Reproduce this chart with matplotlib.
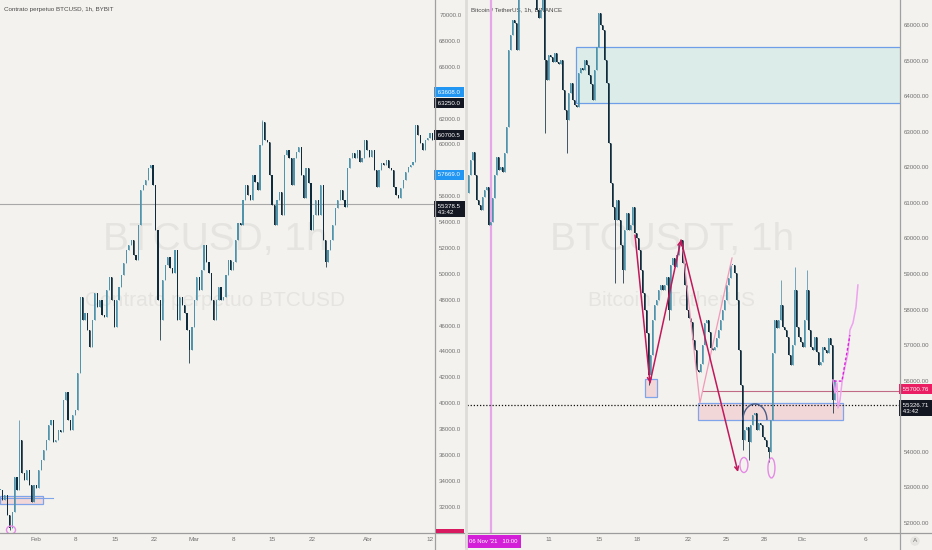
import matplotlib
matplotlib.use("Agg")
import matplotlib.pyplot as plt
from matplotlib.patches import Rectangle, Ellipse, Arc
from matplotlib.lines import Line2D
import numpy as np

FONT = ['Liberation Sans', 'DejaVu Sans']
plt.rcParams['font.family'] = FONT

# ------------------------------------------------------------------ data
left_title = "Contrato perpetuo BTCUSD, 1h, BYBIT"
right_title = "Bitcoin / TetherUS, 1h, BINANCE"
left_wm = ("BTCUSD, 1h", "Contrato perpetuo BTCUSD")
right_wm = ("BTCUSDT, 1h", "Bitcoin / TetherUS")

# left chart: days counted from 1 Feb 2021, one close every ~10.4 h
left_start_day = -6.4
left_step_day = 0.4316
left_close = [
    33290, 32520, 32900, 31360, 30360, 31590, 34300, 33290, 37160, 34610,
    34060, 34840, 33680, 32360, 33680, 33450, 34840, 35610, 36380, 37160,
    38320, 38700, 37000, 37160, 37930, 37770, 40250, 40870, 38700, 37930,
    39090, 39470, 42330, 48210, 46430, 46970, 45660, 44340, 46430, 48520,
    47430, 47980, 46820, 46660, 48750, 49750, 47980, 45890, 47980, 48980,
    49910, 50830, 51840, 52220, 52610, 51450, 51070, 53770, 56480, 56860,
    57250, 58180, 58410, 56860, 53390, 47980, 46430, 49520, 50680, 51300,
    50450, 50060, 51840, 46430, 48210, 47590, 46970, 45660, 44110, 45890,
    47980, 49750, 48750, 50290, 52220, 50910, 50060, 47980, 46430, 47980,
    48980, 47980, 48210, 49910, 51070, 50290, 50910, 52610, 53930, 53770,
    55700, 56860, 56090, 55700, 57640, 57090, 56480, 59950, 61730, 60340,
    60190, 57640, 55320, 53770, 55700, 56320, 54540, 59180, 59570, 58950,
    56860, 58950, 59410, 59800, 57640, 55860, 58180, 57020, 53390, 54540,
    55700, 54540, 56860, 52610, 50910, 51840, 52610, 53770, 55090, 55700,
    56480, 55700, 55160, 58180, 58950, 59340, 58950, 59570, 58640, 58950,
    60340, 59570, 59030, 59570, 58020, 56710, 58020, 58560, 58410, 58790,
    58180, 58020, 56710, 56090, 55860, 56630, 57250, 57870, 58250, 58410,
    58640, 61500, 60730, 60110, 59570, 60340, 60490, 60880, 60340, 60490,
]
left_spike_idx = [4, 8, 66, 78, 108, 134]
left_spike_px = [30200, 38700, 44880, 43100, 61890, 50520]

# right chart: days counted from 1 Nov 2021, one close every ~3.8 h
right_start_day = 3.549
right_step_day = 0.1577
right_close = [
    61280, 61780, 62210, 62430, 61780, 61080, 60940, 60800, 61170, 61360,
    61450, 60380, 60460, 61140, 61780, 62290, 61920, 62010, 61870, 62400,
    63130, 65300, 65720, 66140, 66060, 65300, 67400, 67900, 67600, 68100,
    67800, 68300, 67700, 67000, 67600, 66420, 66200, 66420, 67000, 65020,
    64450, 65160, 65100, 64960, 65210, 64960, 64900, 65020, 64170, 63610,
    63330, 64090, 64370, 63890, 63750, 63700, 64650, 64790, 64740, 65020,
    64880, 64600, 64340, 63890, 64740, 65380, 66340, 66000, 65860, 65020,
    64370, 62680, 61560, 60880, 60520, 61080, 60520, 59820, 59110, 60240,
    60720, 60240, 60380, 60880, 60150, 60010, 59680, 59110, 58470, 57990,
    57340, 56160, 56720, 57710, 58130, 58270, 58550, 58690, 58550, 58690,
    58920, 57990, 59250, 59450, 59200, 59540, 59820, 59960, 59310, 58690,
    57990, 57760, 57650, 57150, 56870, 56300, 56250, 56470, 57010, 57620,
    57710, 57370, 56920, 56870, 56950, 57200, 57430, 57710, 57990, 58270,
    58690, 58890, 59250, 59250, 59030, 58270, 56870, 55880, 54330, 54620,
    54700, 54280, 54760, 55040, 55090, 54620, 54810, 54760, 54420, 54330,
    54140, 54000, 54900, 56780, 57710, 57480, 57710, 58130, 57510, 57430,
    57230, 56720, 56440, 57010, 58550, 57510, 57230, 57090, 56950, 57710,
    58550, 57430, 56950, 56870, 57230, 56810, 56440, 56530, 56950, 56870,
    56780, 57200, 57010, 55460, 56020,
]
right_spike_idx = [39, 50, 74, 78, 91, 101, 138, 141, 151, 157, 164, 170, 183]
right_spike_px = [62960, 62400, 58750, 58750, 55880, 57710, 54050, 53770,
                  53720, 58830, 59200, 59110, 55090]

left_xticks = [0, 7, 14, 21, 28, 35, 42, 49, 59, 70]
left_xlabels = ['Feb', '8', '15', '22', 'Mar', '8', '15', '22', 'Abr', '12']
right_xticks = [10, 14, 17, 21, 24, 27, 30, 35]
right_xlabels = ['11', '15', '18', '22', '25', '28', 'Dic', '6']
# price levels whose labels are visible (the others sit under the price tags)
left_yticks = [32000, 34000, 36000, 38000, 40000, 42000, 44000, 46000, 48000,
               50000, 52000, 54000, 56000, 60000, 62000, 66000, 68000, 70000]
right_yticks = [52000, 53000, 54000, 56000, 57000, 58000, 59000, 60000,
                61000, 62000, 63000, 64000, 65000, 66000]

left_tag_price = [63608.0, 63250.0, 60700.5, 57669.0, 55378.5]
left_tag_text = ['63608.0', '63250.0', '60700.5', '57669.0', '55378.5\n43:42']
right_tag_price = [55700.76, 55326.71]
right_tag_text = ['55700.76', '55326.71\n43:42']

marker_day = 5.417            # 06 Nov '21 10:00
marker_text = "06 Nov '21   10:00"
last_price_left = 55378.5
last_price_right = 55326.71
pink_level = 55700.76

# drawings on the right chart (day, price)
teal_zone = (12.15, 63808, 65382)
small_zone = (17.59, 18.53, 55543, 56049)
big_zone = (21.77, 33.20, 54897, 55375)
arrow_pts = [((16.80, 60097), (17.98, 55937)),
             ((17.98, 55937), (20.43, 59957)),
             ((20.43, 59957), (24.92, 53436))]
thin_path_d = [20.58, 21.92, 24.45]
thin_path_p = [59675, 55375, 59451]
proj_d = [32.41, 32.57, 32.73, 32.81, 32.97, 33.12, 33.20, 33.36, 33.60, 33.75, 33.99, 34.23, 34.38]
proj_p = [56021, 55656, 55937, 55234, 55459, 55937, 56105, 56386, 56780, 57426, 57624, 58073, 58692]
proj2_d = [32.49, 33.12, 33.75]
proj2_p = [55990, 55990, 57280]
pink_level_start = 22.16
# drawings on the left chart
left_zone = (-6.4, 1.24, 32210, 32828)
left_line = (-6.4, 3.02, 32674)

# ------------------------------------------------------------------ style
BG = '#f3f2ee'
UP = '#4f94aa'
DOWN = '#0f2c3c'
TXT = '#727272'
FS = 4.4
W, H = 932, 550


def fx(px):
    return px / W


def fy(py):
    return 1 - py / H


fig = plt.figure(figsize=(W / 100, H / 100), dpi=100)
fig.patch.set_facecolor(BG)
axL = fig.add_axes([0, fy(533), 435 / W, 533 / H])
axR = fig.add_axes([467 / W, fy(533), 433 / W, 533 / H])


def candles(ax, t0, dt, closes, sidx, spx, frac):
    c = np.asarray(closes, float)
    t = t0 + dt * np.arange(len(c))
    o = np.r_[c[0], c[:-1]]
    hi = np.maximum(o, c)
    lo = np.minimum(o, c)
    for i, p in zip(sidx, spx):
        if p > hi[i]:
            hi[i] = p
        else:
            lo[i] = p
    col = np.where(c >= o, UP, DOWN)
    ax.vlines(t, lo, hi, colors=col, linewidth=0.55, zorder=3)
    body_lo = np.minimum(o, c)
    body_h = np.maximum(np.abs(c - o), 40)
    ax.bar(t, body_h, bottom=body_lo, width=dt * frac, color=col,
           linewidth=0, zorder=3)


for ax in (axL, axR):
    ax.set_facecolor(BG)
    for s in ax.spines.values():
        s.set_visible(False)
    ax.yaxis.tick_right()
    ax.tick_params(axis='y', length=0, pad=3.0, labelsize=FS, labelcolor=TXT)
    ax.tick_params(axis='x', length=0, pad=3.2, labelsize=FS + 0.2, labelcolor=TXT)

axL.set_xlim(-6.396, 70.88)
axL.set_ylim(29968, 71159)
axR.set_xlim(3.549, 37.70)
axR.set_ylim(51720, 66703)

axL.set_xticks(left_xticks, left_xlabels)
axR.set_xticks(right_xticks, right_xlabels)
axL.set_yticks(left_yticks, [f'{v:.1f}' for v in left_yticks])
axR.set_yticks(right_yticks, [f'{v:.2f}' for v in right_yticks])

# watermarks and titles
for ax, (big, small), cx in ((axL, left_wm, 0.494), (axR, right_wm, 0.473)):
    ax.text(cx, 0.55, big, transform=ax.transAxes, ha='center', va='center',
            fontsize=28, color='#e5e4e0', zorder=0.5)
    ax.text(cx, 0.437, small, transform=ax.transAxes, ha='center', va='center',
            fontsize=15, color='#e5e4e0', zorder=0.5)
axL.text(4 / 435, 1 - 10 / 533, left_title, transform=axL.transAxes,
         ha='left', va='center', fontsize=4.5, color='#4a4a4a', zorder=1)
axR.text(4 / 433, 1 - 10 / 533, right_title, transform=axR.transAxes,
         ha='left', va='center', fontsize=4.5, color='#4a4a4a', zorder=1)

# right chart drawings (below candles)
axR.axvline(marker_day, color='#e7a6ea', lw=1.6, zorder=2)
axR.add_patch(Rectangle((teal_zone[0], teal_zone[1]), 40, teal_zone[2] - teal_zone[1],
                        fc='#dcece9', ec='#6f9ee8', lw=0.9, zorder=1.5))
axR.add_patch(Rectangle((small_zone[0], small_zone[2]), small_zone[1] - small_zone[0],
                        small_zone[3] - small_zone[2], fc='#f2d7d9', ec='#7fa4ea', lw=0.9, zorder=1.5))
axR.add_patch(Rectangle((big_zone[0], big_zone[2]), big_zone[1] - big_zone[0],
                        big_zone[3] - big_zone[2], fc='#f2d7d9', ec='#7fa4ea', lw=0.9, zorder=1.5))
axR.axhline(last_price_right, color='#111111', lw=0.9, ls=(0, (1, 1.5)), zorder=2)
axR.plot([pink_level_start, 40], [pink_level, pink_level], color='#c06a86', lw=0.8, zorder=2)

axL.add_patch(Rectangle((left_zone[0], left_zone[2]), left_zone[1] - left_zone[0],
                        left_zone[3] - left_zone[2], fc='#f2d7d9', ec='#7fa4ea', lw=0.9, zorder=1.5))
axL.plot([left_line[0], left_line[1]], [left_line[2], left_line[2]], color='#7fa4ea', lw=0.8, zorder=1.6)
axL.axhline(last_price_left, color='#a8a8a8', lw=0.8, zorder=2)

# candles
candles(axL, left_start_day, left_step_day, left_close, left_spike_idx, left_spike_px, 0.5)
candles(axR, right_start_day, right_step_day, right_close, right_spike_idx, right_spike_px, 0.5)

# drawings above candles
for a, b in arrow_pts:
    axR.annotate('', xy=b, xytext=a,
                 arrowprops=dict(arrowstyle='->', color='#c2185b', lw=1.1,
                                 shrinkA=0, shrinkB=0, mutation_scale=7), zorder=5)
axR.plot(thin_path_d, thin_path_p, color='#f19ab8', lw=0.9, zorder=4.5)
axR.add_patch(Arc((26.26, 54897), 1.893, 900, theta1=0, theta2=180,
                  color='#4b5d86', lw=1.0, zorder=5))
axR.add_patch(Ellipse((25.39, 53632), 0.631, 422, fill=False, ec='#e58ae5', lw=1.0, zorder=5))
axR.add_patch(Ellipse((27.56, 53548), 0.552, 562, fill=False, ec='#e58ae5', lw=1.0, zorder=5))
axL.add_patch(Ellipse((-4.44, 30201), 1.6, 618, fill=False, ec='#e58ae5', lw=1.0, zorder=5))
axR.plot(proj_d, proj_p, color='#eea2f0', lw=1.1, zorder=5)
axR.plot(proj2_d, proj2_p, color='#dd22dd', lw=1.0, ls=(0, (2, 1.5)), zorder=5.1)


# price tags on the axes
def tag(ax, p, t, c, off):
    ax.annotate('\n'.join(' ' + s + ' ' for s in t.split('\n')), xy=(1, p),
                xycoords=('axes fraction', 'data'), xytext=(1.0, off),
                textcoords='offset points', ha='left', va='center', fontsize=FS,
                color='white', linespacing=1.3,
                bbox=dict(boxstyle='square,pad=0.4', fc=c, ec='none'),
                annotation_clip=False, zorder=10)


left_tag_color = ['#2196f3', '#131722', '#131722', '#2196f3', '#131722']
left_tag_off = [4, -0.5, 0, 0, -3.6]
for p, t, c, off in zip(left_tag_price, left_tag_text, left_tag_color, left_tag_off):
    tag(axL, p, t, c, off)
right_tag_color = ['#e91e63', '#131722']
right_tag_off = [1.5, -2.6]
for p, t, c, off in zip(right_tag_price, right_tag_text, right_tag_color, right_tag_off):
    tag(axR, p, t, c, off)

axR.annotate(marker_text, xy=(marker_day, 0), xycoords=('data', 'axes fraction'),
             xytext=(1.8, -6), textcoords='offset points', ha='center', va='center',
             fontsize=4.3, color='white',
             bbox=dict(boxstyle='square,pad=0.62', fc='#d41fd8', ec='none'),
             annotation_clip=False, zorder=10)

# frame lines and misc
fig.add_artist(Rectangle((fx(436), fy(533)), 28 / W, 4 / H, transform=fig.transFigure,
                         fc='#d81b60', ec='none', zorder=9))
fig.add_artist(Line2D([0, 1], [fy(533), fy(533)], color='#9c9c9c', lw=0.9, zorder=8))
fig.add_artist(Line2D([fx(435), fx(435)], [0, 1], color='#a0a0a0', lw=0.9, zorder=8))
fig.add_artist(Line2D([fx(900), fx(900)], [0, 1], color='#a0a0a0', lw=0.9, zorder=8))
fig.add_artist(Line2D([fx(466), fx(466)], [0, 1], color='#dedcd8', lw=2.0, zorder=8))
fig.text(fx(915), fy(541), 'A', ha='center', va='center', fontsize=4.6, color='#777777',
         bbox=dict(boxstyle='circle,pad=0.35', fc='#e6e5e1', ec='none'), zorder=9)

fig.savefig('out.png', dpi=100, facecolor=BG)
